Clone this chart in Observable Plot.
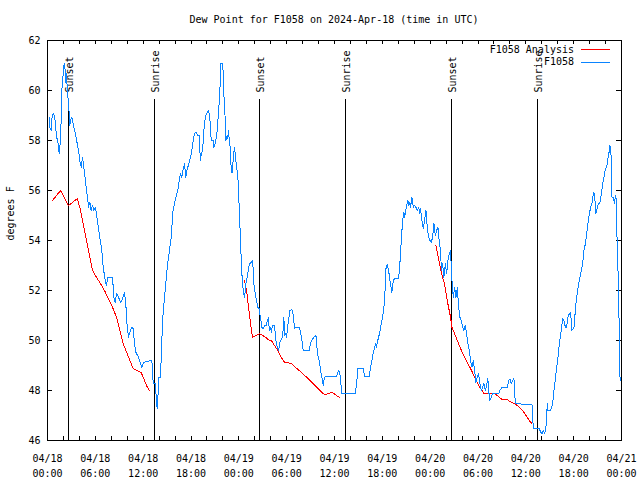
<!DOCTYPE html>
<html><head><meta charset="utf-8">
<script src="https://cdn.jsdelivr.net/npm/d3@7"></script>
<script src="https://cdn.jsdelivr.net/npm/@observablehq/plot@0.6"></script>
<style>
body{margin:0;background:#fff;}
#wrap{position:relative;width:640px;height:480px;font-family:"DejaVu Sans Mono",monospace;font-size:10px;color:#000;overflow:hidden;background:#fff}
#title{position:absolute;left:47px;width:574px;top:14px;line-height:12px;text-align:center;white-space:pre}
#chart{position:absolute;left:0;top:30px}
.lg{position:absolute;right:66px;line-height:12px;white-space:pre}
.sw{position:absolute;left:581px;width:29px;height:1px}
</style></head>
<body><div id="wrap">
<div id="title"></div>
<div id="chart"></div>
<div class="lg" id="lg1" style="top:44px"></div><div class="sw" id="sw1" style="top:49px"></div>
<div class="lg" id="lg2" style="top:56px"></div><div class="sw" id="sw2" style="top:62px"></div>
</div>
<script>
const titleText = "Dew Point for F1058 on 2024-Apr-18 (time in UTC)";
const yLabel = "degrees F";
const seriesNames = ["F1058 Analysis", "F1058"];
const seriesColors = ["#ff0000", "#0a84ff"];
const startTime = "2024-04-18T00:00Z";
const endTime = "2024-04-21T00:00Z";
const yTicks = [46, 48, 50, 52, 54, 56, 58, 60, 62];
const sunEvents = [
  ["2024-04-18T02:40Z", "Sunset"], ["2024-04-18T13:28Z", "Sunrise"],
  ["2024-04-19T02:38Z", "Sunset"], ["2024-04-19T13:26Z", "Sunrise"],
  ["2024-04-20T02:44Z", "Sunset"], ["2024-04-20T13:31Z", "Sunrise"]
];
// [hours since start, dew point F]
const observed = [
[0.21,58.93],[0.29,58.53],[0.46,58.4],[0.54,58.87],[0.72,59.07],[0.88,59.0],[0.97,58.73],[1.13,58.13],[1.29,58.0],[1.38,57.67],
[1.47,57.47],[1.54,57.73],[1.63,58.0],[1.72,58.93],[1.79,60.0],[1.88,60.27],[1.97,60.67],[2.05,61.0],[2.13,61.07],[2.22,60.8],
[2.30,60.33],[2.38,60.67],[2.47,60.13],[2.63,59.47],[2.72,59.07],[2.80,58.6],[2.89,58.8],[3.05,58.93],[3.22,58.67],[3.39,58.4],
[3.55,58.2],[3.73,57.87],[3.89,57.6],[4.05,57.2],[4.23,56.93],[4.39,57.33],[4.55,56.93],[4.73,56.47],[4.89,56.0],[5.06,55.6],
[5.14,55.33],[5.31,55.53],[5.48,55.2],[5.65,55.4],[5.81,55.2],[5.98,55.33],[6.15,55.07],[6.31,54.67],[6.56,54.13],[6.81,53.6],
[6.99,52.93],[7.24,52.4],[7.40,52.2],[7.57,52.53],[8.16,52.53],[8.32,51.73],[8.49,51.53],[8.66,51.87],[8.91,51.73],[9.16,51.53],
[9.41,51.67],[9.66,51.93],[9.82,51.47],[10.0,50.53],[10.16,50.13],[10.33,50.33],[10.58,50.53],[10.75,50.47],[10.92,49.87],[11.08,49.53],
[11.42,49.33],[11.67,49.07],[11.83,48.93],[12.08,49.13],[12.92,49.2],[13.09,49.2],[13.26,48.27],[13.51,48.27],[13.68,47.6],[13.76,47.27],
[13.84,47.6],[13.93,48.53],[14.18,48.53],[14.34,50.0],[14.52,51.2],[14.68,51.73],[14.84,52.27],[15.02,52.93],[15.18,53.33],[15.35,53.73],
[15.52,54.13],[15.68,54.93],[15.77,55.27],[15.93,55.47],[16.10,55.73],[16.27,55.93],[16.44,56.13],[16.52,56.4],[16.69,56.67],[16.85,56.53],
[16.94,56.73],[17.10,56.93],[17.19,57.07],[17.35,56.53],[17.44,56.73],[17.60,56.93],[17.78,57.13],[17.94,57.33],[18.11,57.6],[18.28,58.0],
[18.44,58.27],[18.61,58.33],[18.86,58.2],[19.03,58.2],[19.11,57.6],[19.20,57.2],[19.29,57.47],[19.45,57.6],[19.54,58.0],[19.61,58.4],
[19.79,58.93],[20.04,59.13],[20.20,59.2],[20.36,58.93],[20.45,58.4],[20.54,58.0],[20.79,58.0],[20.87,57.73],[21.04,57.87],[21.12,58.0],
[21.29,58.4],[21.46,59.2],[21.62,59.87],[21.71,61.07],[21.96,61.07],[22.05,60.67],[22.12,59.87],[22.30,58.8],[22.37,58.0],[22.55,58.2],
[22.62,58.07],[22.71,58.4],[22.80,58.0],[22.96,57.6],[23.05,56.73],[23.21,56.73],[23.30,57.33],[23.46,57.73],[23.63,57.2],[23.88,56.53],
[24.05,55.33],[24.22,53.87],[24.38,52.67],[24.55,52.0],[24.72,51.73],[24.88,52.27],[25.06,52.53],[25.22,52.93],[25.38,53.07],[25.56,53.13],
[25.72,53.2],[25.81,52.8],[25.88,52.27],[26.06,51.87],[26.22,51.6],[26.39,51.33],[26.56,51.27],[26.64,51.07],[26.89,50.53],[27.06,50.47],
[27.23,50.6],[27.48,50.6],[27.57,50.8],[27.73,50.93],[27.82,50.4],[27.98,50.53],[28.07,50.33],[28.23,50.6],[28.48,50.6],[28.65,50.0],
[28.82,49.73],[28.98,49.6],[29.15,49.93],[29.49,50.13],[29.65,50.93],[29.74,50.2],[29.90,50.27],[29.99,50.13],[30.11,50.53],[30.40,51.2],
[30.65,51.23],[30.83,51.0],[30.99,50.47],[31.15,50.53],[31.58,50.53],[31.74,50.33],[31.91,50.0],[32.08,49.6],[32.84,49.6],[33.0,49.93],
[33.16,50.0],[33.41,50.13],[33.59,50.2],[33.75,50.13],[33.84,49.47],[34.09,49.2],[34.25,48.8],[34.42,48.53],[34.59,48.2],[34.67,48.4],
[34.84,48.56],[36.26,48.56],[36.51,48.8],[36.68,48.67],[36.76,48.4],[36.93,47.87],[38.61,47.87],[38.77,48.27],[38.93,48.87],[39.61,48.87],
[39.77,48.56],[40.36,48.56],[40.53,48.93],[40.69,49.2],[40.78,49.4],[41.03,49.73],[41.19,49.87],[41.28,49.73],[41.37,49.93],[41.53,50.13],
[41.69,50.33],[41.87,50.67],[42.03,50.93],[42.20,51.33],[42.37,52.13],[42.45,52.87],[42.62,53.04],[42.79,52.8],[42.95,52.4],[43.12,52.07],
[43.20,51.93],[43.38,52.4],[43.54,52.47],[44.04,52.47],[44.20,53.07],[44.38,54.0],[44.54,54.8],[44.71,55.13],[44.79,54.93],[44.88,55.07],
[45.04,55.4],[45.21,55.6],[45.30,55.4],[45.46,55.53],[45.55,55.33],[45.71,55.73],[45.88,55.33],[46.05,55.4],[46.21,55.33],[46.39,55.2],
[46.55,55.33],[46.71,55.07],[46.80,55.27],[46.96,54.8],[47.14,54.47],[47.30,54.8],[47.47,55.2],[47.55,54.8],[47.72,54.33],[47.80,54.13],
[47.97,54.0],[48.14,53.93],[48.31,54.13],[48.47,54.67],[48.65,54.2],[48.81,54.4],[48.97,54.53],[49.15,53.93],[49.31,53.6],[49.40,52.8],
[49.56,53.07],[49.72,52.53],[49.90,53.07],[50.06,52.67],[50.23,53.2],[50.40,53.47],[50.56,53.6],[50.65,52.93],[50.73,52.4],[50.90,51.73],
[51.07,52.13],[51.23,51.73],[51.41,52.13],[51.57,51.33],[51.73,50.93],[51.91,50.8],[52.07,50.53],[52.23,50.4],[52.41,50.6],[52.57,50.27],
[52.74,49.87],[52.91,49.6],[53.07,49.2],[53.24,48.93],[53.41,49.2],[53.58,48.8],[53.74,48.33],[53.91,48.53],[54.08,48.67],[54.24,48.27],
[54.42,48.0],[54.58,48.13],[54.74,48.27],[54.92,48.0],[55.08,48.2],[55.24,48.47],[55.33,48.0],[55.50,47.6],[55.67,47.73],[55.83,47.87],
[56.59,47.87],[56.75,48.0],[57.0,48.13],[57.68,48.13],[57.84,48.4],[58.01,48.47],[58.18,48.27],[58.34,48.4],[58.51,48.47],[58.68,47.47],
[60.77,47.44],[60.94,46.47],[61.44,46.47],[61.69,46.47],[61.86,46.33],[62.02,46.27],[62.19,46.4],[62.36,46.27],[62.52,46.53],[62.70,47.47],
[62.77,47.2],[63.11,47.2],[63.36,47.47],[63.53,48.0],[63.78,48.67],[64.03,49.33],[64.20,49.87],[64.45,50.4],[64.62,50.87],[64.78,50.8],
[64.96,50.53],[65.12,50.53],[65.28,50.93],[65.46,51.07],[65.62,51.13],[65.78,50.4],[66.04,50.53],[66.21,51.2],[66.37,51.73],[66.62,52.27],
[66.79,52.53],[66.96,52.8],[67.13,53.07],[67.29,53.6],[67.47,53.87],[67.63,54.27],[67.79,54.67],[67.97,55.07],[68.13,55.33],[68.29,55.47],
[68.47,55.87],[68.54,55.93],[68.72,55.47],[68.79,55.07],[68.97,55.33],[69.13,55.47],[69.30,55.53],[69.47,55.87],[69.64,56.27],[69.80,56.53],
[69.98,56.87],[70.14,56.93],[70.30,57.27],[70.48,57.6],[70.55,57.8],[70.64,57.6],[70.73,57.2],[70.80,55.73],[70.98,55.73],[71.14,55.47],
[71.23,55.8],[71.31,55.73],[71.39,54.67],[71.56,52.8],[71.74,50.13],[71.81,48.53],[71.94,48.4]
];
const analysis1 = [
[0.63,55.6],[1.63,56.0],[2.63,55.4],[3.73,55.67],[4.05,55.33],[4.48,54.67],[4.89,54.0],[5.31,53.33],[5.65,52.8],[6.15,52.53],
[6.65,52.27],[7.15,52.0],[7.65,51.67],[8.16,51.33],[8.66,50.93],[9.07,50.4],[9.50,49.87],[10.0,49.47],[10.50,49.07],[10.75,48.87],
[11.42,48.77],[11.76,48.71],[12.08,48.47],[12.42,48.2],[12.76,48.0]
];
const analysis2 = [
[24.72,52.4],[24.97,52.0],[25.22,51.33],[25.47,50.67],[25.72,50.11],[25.88,50.16],[26.22,50.21],[26.64,50.27],[26.98,50.2],[27.35,50.13],
[27.82,50.0],[28.07,50.0],[28.48,49.8],[28.90,49.6],[29.32,49.33],[29.74,49.13],[30.24,49.11],[30.65,49.07],[31.08,48.93],[31.58,48.8],
[31.99,48.67],[32.41,48.56],[32.84,48.43],[33.25,48.29],[33.66,48.16],[34.09,48.03],[34.50,47.89],[34.76,47.84],[35.17,47.87],[35.67,47.92],
[36.10,47.84],[36.42,47.76],[36.68,47.71]
];
const analysis3 = [
[48.72,53.8],[49.06,53.27],[49.31,52.87],[49.56,52.53],[49.81,52.27],[50.06,51.73],[50.31,51.33],[50.56,50.93],[50.73,50.53],[51.07,50.27],
[51.41,50.0],[51.82,49.67],[52.23,49.4],[52.66,49.13],[53.07,48.87],[53.49,48.6],[53.91,48.33],[54.33,48.07],[54.74,47.89],[56.0,47.89],
[56.42,47.8],[56.84,47.67],[57.25,47.63],[57.68,47.63],[58.18,47.53],[58.76,47.44],[59.18,47.33],[59.60,47.2],[60.01,47.0],[60.44,46.8],
[60.77,46.67]
];

document.getElementById("title").textContent = titleText;
document.getElementById("lg1").textContent = seriesNames[0];
document.getElementById("lg2").textContent = seriesNames[1];
document.getElementById("sw1").style.background = seriesColors[0];
document.getElementById("sw2").style.background = seriesColors[1];

const start = new Date(startTime), end = new Date(endTime);
const toDate = h => new Date(start.getTime() + h * 3600e3);
const obs = observed.map(([h, v]) => ({t: toDate(h), v}));
const ana = [analysis1, analysis2, analysis3].flatMap((s, i) => s.map(([h, v]) => ({t: toDate(h), v, seg: i})));
const events = sunEvents.map(([t, label]) => ({t: new Date(t), label}));
const majorTicks = d3.utcHour.every(6).range(start, new Date(end.getTime() + 1));
const minorTicks = d3.utcHour.every(2).range(start, new Date(end.getTime() + 1));
const fmt = d3.utcFormat("%m/%d\n%H:%M");

const W = 640, H = 450, mL = 47, mR = 19, mT = 10, mB = 40;
const pw = W - mL - mR, ph = H - mT - mB;

const chart = Plot.plot({
  width: W, height: H,
  marginTop: mT, marginRight: mR, marginBottom: mB, marginLeft: mL,
  style: {fontFamily: '"DejaVu Sans Mono", monospace', fontSize: "10px", background: "white", color: "black", overflow: "visible"},
  x: {type: "utc", domain: [start, end]},
  y: {domain: [46, 62]},
  marks: [
    Plot.axisX({ticks: majorTicks, tickSize: 0, tickPadding: 11, tickFormat: fmt, lineHeight: 1.5, label: null}),
    Plot.axisY({ticks: yTicks, tickSize: 0, tickPadding: 7, label: null}),
    Plot.ruleX(minorTicks, {x: d => d, insetTop: ph - 4, stroke: "black", shapeRendering: "crispEdges"}),
    Plot.ruleX(minorTicks, {x: d => d, insetBottom: ph - 4, stroke: "black", shapeRendering: "crispEdges"}),
    Plot.ruleY(yTicks, {y: d => d, insetRight: pw - 5, stroke: "black", shapeRendering: "crispEdges"}),
    Plot.ruleY(yTicks, {y: d => d, insetLeft: pw - 5, stroke: "black", shapeRendering: "crispEdges"}),
    Plot.ruleX(events, {x: "t", insetTop: 59, stroke: "black", shapeRendering: "crispEdges"}),
    Plot.text(events, {x: "t", text: "label", frameAnchor: "top", rotate: -90, textAnchor: "start", lineAnchor: "middle", dy: 52, dx: 1, fill: "black"}),
    Plot.text([yLabel], {frameAnchor: "left", text: d => d, rotate: -90, dx: -37, fill: "black"}),
    Plot.line(ana, {x: "t", y: "v", z: "seg", stroke: seriesColors[0], strokeWidth: 1, shapeRendering: "crispEdges"}),
    Plot.line(obs, {x: "t", y: "v", stroke: seriesColors[1], strokeWidth: 1, shapeRendering: "crispEdges"}),
    Plot.frame({stroke: "black", shapeRendering: "crispEdges"})
  ]
});
document.getElementById("chart").appendChild(chart);
</script>
</body></html>
